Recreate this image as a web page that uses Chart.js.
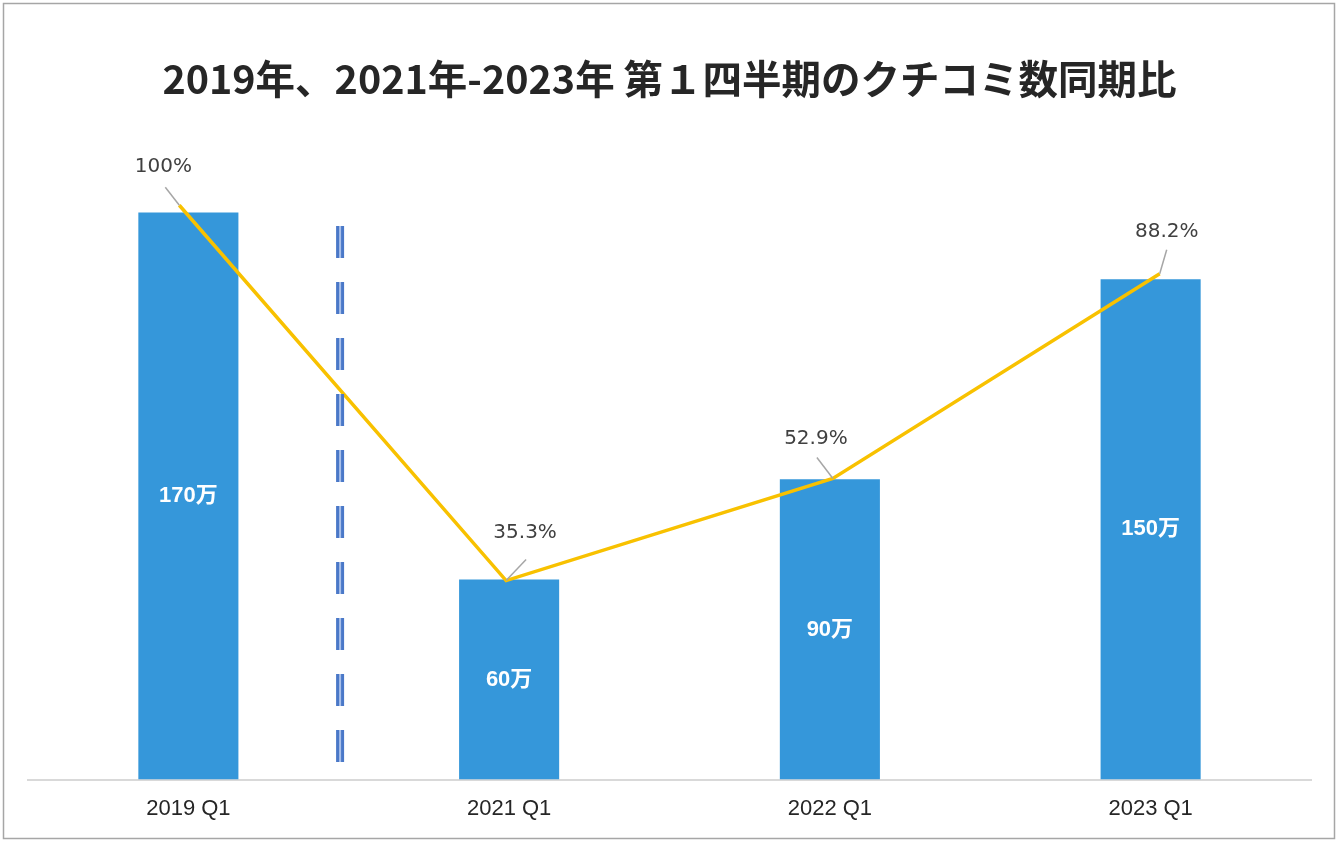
<!DOCTYPE html>
<html>
<head>
<meta charset="utf-8">
<script src="https://cdn.jsdelivr.net/npm/chart.js@4"></script>
<style>
html,body{margin:0;padding:0;background:#fff;}
#wrap{position:relative;width:1338px;height:842px;}
</style>
</head>
<body>
<div id="wrap"><canvas id="c" width="1338" height="842"></canvas></div>
<script>
// ---- data ----
const categories = ['2019 Q1', '2021 Q1', '2022 Q1', '2023 Q1'];
const reviewCounts = [170, 60, 90, 150];          // 万
const ratioPercent = [100, 35.3, 52.9, 88.2];     // % vs 2019 Q1
const chartTitle = '2019年、2021年-2023年 第１四半期のクチコミ数同期比';
const countUnit = '万';

// label offsets (style) : [labelDx, labelDy, leaderDx, leaderDy]
const pctLabelOffsets = [[-16, -38, -14, -18], [19, -48, 20, -21], [-17, -40, -16, -21], [7, -42, 7, -24]];

const framePlugin = {
  id: 'frame',
  beforeDraw(chart) {
    const ctx = chart.ctx;
    ctx.save();
    ctx.fillStyle = '#fff';
    ctx.fillRect(0, 0, chart.width, chart.height);
    ctx.strokeStyle = '#A6A6A6';
    ctx.lineWidth = 1.5;
    ctx.strokeRect(3.5, 3.5, chart.width - 7, chart.height - 7);
    ctx.restore();
  },
  afterDatasetsDraw(chart) {
    const ctx = chart.ctx;
    const xs = chart.scales.x;
    // dashed double separator between 2019 and 2021
    const xSep = xs.getPixelForValue(0) + (xs.getPixelForValue(1) - xs.getPixelForValue(0)) * 0.473;
    ctx.save();
    const y0 = 226, y1 = 762, dash = 32, gap = 24;
    for (let y = y0; y < y1; y += dash + gap) {
      const h = Math.min(dash, y1 - y);
      ctx.fillStyle = '#4A78C8';
      ctx.fillRect(xSep - 4, y, 8, h);
      ctx.fillStyle = '#A9C0EA';
      ctx.fillRect(xSep - 1, y, 2, h);
    }
    // bar value labels
    const barMeta = chart.getDatasetMeta(0);
    ctx.fillStyle = '#ffffff';
    ctx.font = 'bold 22px "Liberation Sans", "Noto Sans CJK JP", sans-serif';
    ctx.textAlign = 'center';
    ctx.textBaseline = 'middle';
    barMeta.data.forEach((bar, i) => {
      const mid = (bar.y + bar.base) / 2;
      ctx.fillText(reviewCounts[i] + countUnit, bar.x, mid);
    });
    // percent labels with leader lines
    const lineMeta = chart.getDatasetMeta(1);
    ctx.font = '20px "DejaVu Sans", "Noto Sans", sans-serif';
    lineMeta.data.forEach((pt, i) => {
      const o = pctLabelOffsets[i];
      ctx.strokeStyle = '#A6A6A6';
      ctx.lineWidth = 1.5;
      ctx.beginPath();
      ctx.moveTo(pt.x + o[2], pt.y + o[3]);
      ctx.lineTo(pt.x, pt.y);
      ctx.stroke();
      const v = ratioPercent[i];
      const txt = (Number.isInteger(v) ? v : v.toFixed(1)) + '%';
      ctx.fillStyle = '#404040';
      ctx.fillText(txt, pt.x + o[0], pt.y + o[1]);
    });
    ctx.restore();
  }
};

new Chart(document.getElementById('c'), {
  data: {
    labels: categories,
    datasets: [
      {
        type: 'bar',
        data: reviewCounts,
        backgroundColor: '#3597DA',
        borderWidth: 0,
        grouped: false,
        barPercentage: 1,
        categoryPercentage: 0.312,
        xAxisID: 'x',
        yAxisID: 'y',
        order: 2
      },
      {
        type: 'line',
        data: ratioPercent.map((v, i) => ({ x: i, y: v })),
        borderColor: '#F8C100',
        borderWidth: 3.5,
        pointRadius: 0,
        tension: 0,
        fill: false,
        xAxisID: 'x2',
        yAxisID: 'y1',
        order: 1
      }
    ]
  },
  options: {
    responsive: false,
    animation: false,
    devicePixelRatio: 1,
    layout: { padding: { left: 28, right: 27, top: 0, bottom: 12 } },
    plugins: {
      legend: { display: false },
      tooltip: { enabled: false },
      title: {
        display: true,
        text: chartTitle,
        color: '#262626',
        font: { family: '"Noto Sans CJK JP", sans-serif', size: 39.5, weight: 'bold', lineHeight: 1.2 },
        padding: { top: 55, bottom: 10 }
      }
    },
    scales: {
      x: {
        type: 'category',
        offset: true,
        grid: { display: false },
        border: { display: true, color: '#D9D9D9', width: 2 },
        ticks: {
          color: '#262626',
          font: { family: '"Liberation Sans", Arial, sans-serif', size: 22 },
          padding: 8
        }
      },
      x2: {
        type: 'linear',
        display: false,
        min: -0.463,
        max: 3.463
      },
      y: {
        display: false,
        min: 0,
        max: 200
      },
      y1: {
        display: false,
        min: 1,
        max: 116
      }
    }
  },
  plugins: [framePlugin]
});
</script>
</body>
</html>
